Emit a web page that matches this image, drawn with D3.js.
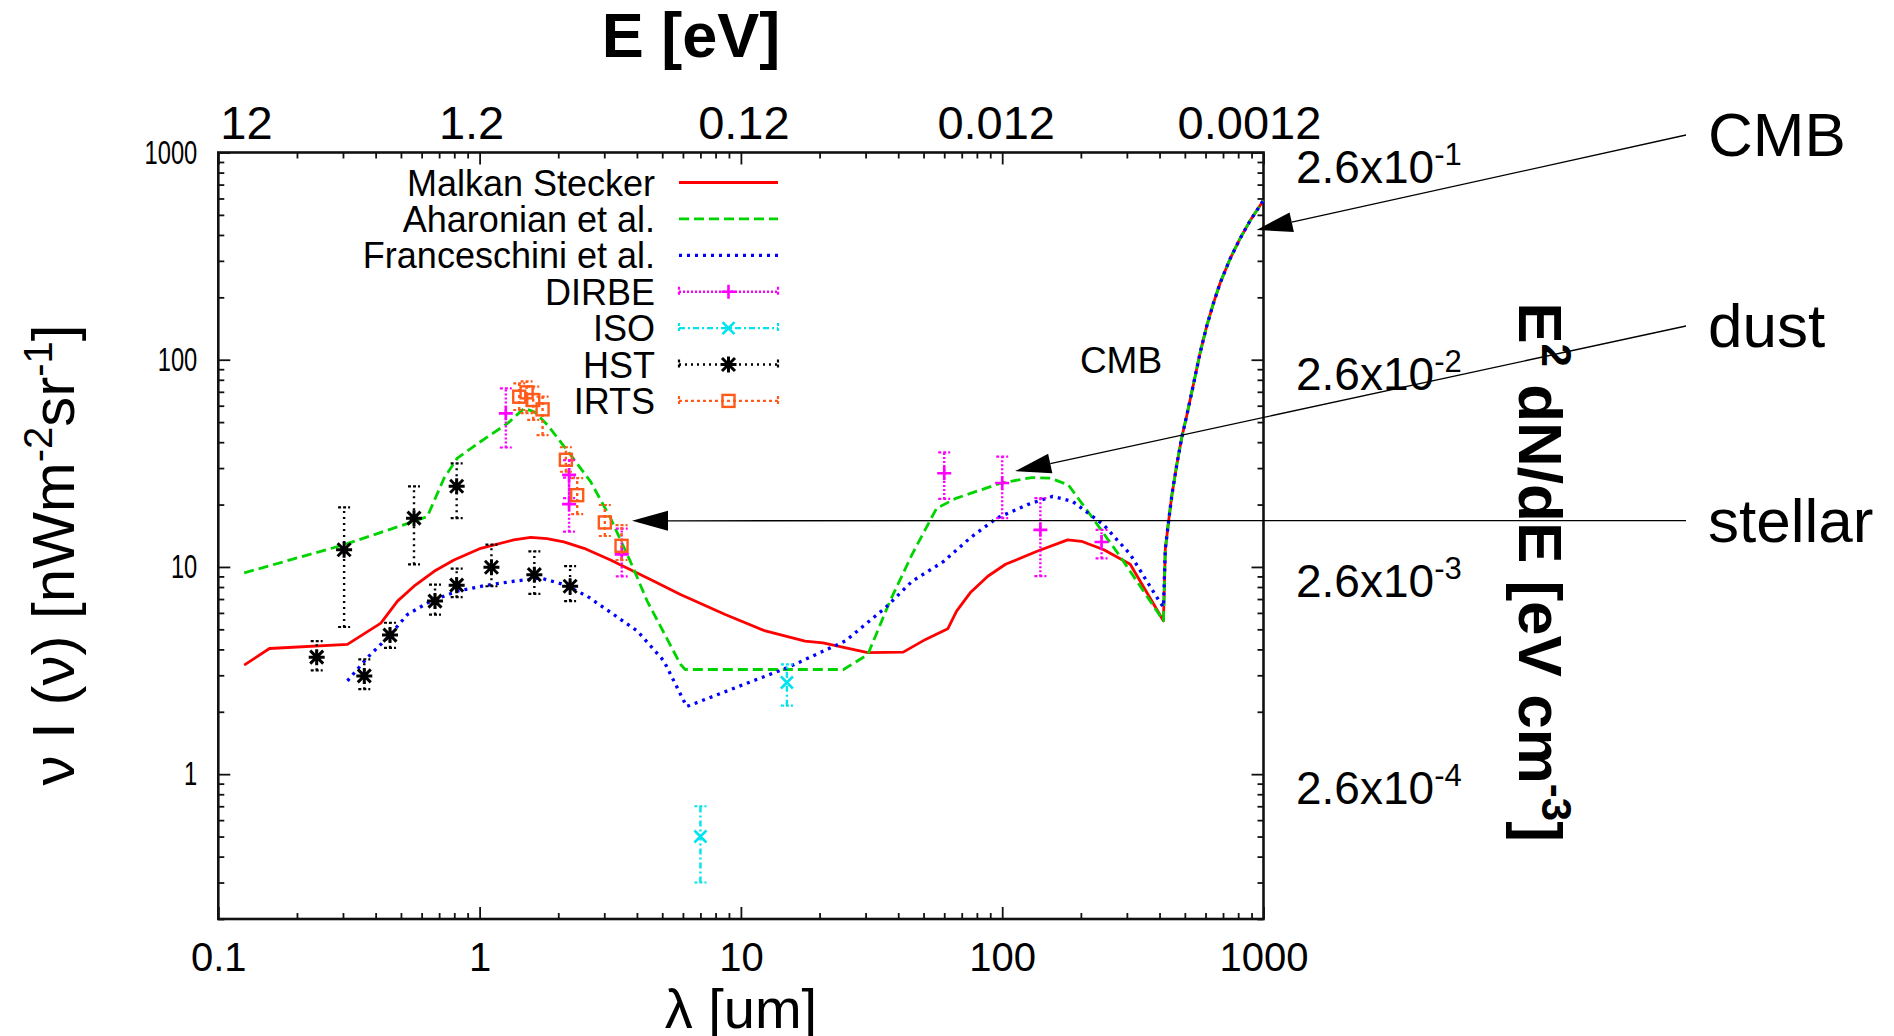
<!DOCTYPE html>
<html><head><meta charset="utf-8">
<script src="https://cdn.jsdelivr.net/npm/d3@7"></script>
<style>
body{margin:0;background:#fff}
svg{display:block}
text{font-family:"Liberation Sans",Arial,Helvetica,sans-serif;fill:#000}
</style>
</head><body>
<svg id="c" width="1894" height="1036"></svg>
<script>
// ---------------- DATA ----------------
const xTicks = [0.1, 1, 10, 100, 1000];
const xTickLabels = ["0.1", "1", "10", "100", "1000"];
const yTicks = [1, 10, 100, 1000];
const yTickLabels = ["1", "10", "100", "1000"];
const topTickLabels = ["12", "1.2", "0.12", "0.012", "0.0012"];
const rightTickValues = [1000, 100, 10, 1];
const rightTickMantissa = "2.6x10";
const rightTickExps = ["-1", "-2", "-3", "-4"];

const seriesNames = ["Malkan Stecker", "Aharonian et al.", "Franceschini et al.", "DIRBE", "ISO", "HST", "IRTS"];

// common CMB part [lambda um, nuI(nu)]
const cmb = [[421,12.2],[433,16.5],[446,22.2],[466,31.3],[487,42.3],[509,54.1],[540,76.5],[572,108],[607,146],[643,187],[682,234],[745,307],[813,384],[889,469],[998,586]];

const malkan = [[0.1256,3.36],[0.157,4.04],[0.312,4.23],[0.419,5.36],[0.485,6.84],[0.561,8.07],[0.67,9.53],[0.798,10.8],[1.01,12.3],[1.35,13.5],[1.57,13.9],[1.81,13.7],[2.10,13.2],[2.51,12.3],[3.17,10.8],[3.78,9.7],[4.65,8.53],[5.87,7.36],[8.71,5.89],[12.4,4.91],[17.6,4.39],[20.6,4.3],[30.6,3.86],[41.8,3.88],[50.9,4.47],[61.9,5.03],[66.9,6.12],[75.4,7.5],[88.1,9.02],[103,10.3],[136,11.9],[178,13.5],[201,13.3],[245,12.1],[309,10.3],[414,5.5]];

const aharonian = [[0.1256,9.36],[0.303,12.8],[0.561,16.6],[0.631,17.5],[0.731,26.8],[0.822,33.5],[1.01,40.3],[1.28,49.3],[1.48,58.2],[1.62,56.1],[1.82,48.4],[2.23,34.7],[2.66,25.8],[3.17,17.2],[3.78,10.6],[4.38,6.84],[5.87,3.39],[6.12,3.2],[24.7,3.2],[30.6,3.78],[37.2,6.84],[45.2,11.5],[56.1,19.2],[66.9,21.5],[99.1,25.4],[130,27.0],[153,26.8],[179,24.9],[217,17.9],[286,11],[414,5.5]];

const franceschini = [[0.312,2.82],[0.372,3.65],[0.444,4.55],[0.529,5.89],[0.65,6.84],[0.822,7.64],[1.07,8.17],[1.35,8.53],[1.71,8.85],[2.10,8.22],[2.58,7.23],[3.26,5.89],[4.01,4.91],[5.07,3.52],[6.2,2.12],[15.1,3.27],[25.1,4.39],[35.7,6.35],[45.2,8.53],[59.5,10.6],[75.4,13.8],[95.3,17.2],[125,20],[156,21.9],[186,20.7],[244,16.0],[309,11.5],[399,6.84],[414,6.4]];

// [lambda, value, low, high]
const dirbe = [[1.26,55.1,37.7,72.7],[2.2,27.8,21.5,32.8],[2.2,20.1,14.8,27],[3.5,11.5,9.0,15.3],[60,28.3,21.3,35.7],[100,25.4,17.2,34.1],[140,15.1,9.02,21.5],[240,13.2,11.0,15.1]];
const iso = [[7.0,0.5,0.3,0.7],[15.0,2.77,2.14,3.39]];
const hst = [[0.238,3.67,3.17,4.39],[0.303,12.1,5.13,19.4],[0.362,2.98,2.57,3.58],[0.454,4.69,4.07,5.38],[0.561,17.2,10.3,24.5],[0.675,6.84,5.89,8.22],[0.817,24.5,17.2,31.6],[0.817,8.17,7.15,9.82],[1.11,9.97,8.07,12.8],[1.62,9.18,7.41,11.9],[2.22,8.07,6.84,10.1]];
const irts = [[1.418,66.3,57.2,76.9],[1.513,69.6,55.3,78.6],[1.604,63.9,51.3,74.1],[1.742,57.6,43.3,66.3],[2.139,32.9,28.8,37.8],[2.363,22.2,18.0,26.8],[3.015,16.4,14.1,19.9],[3.493,12.65,10.8,15.9]];

// annotations: label, arrow tip in data coords
const annotations = [
  {text:"CMB", tip:[941,423]},
  {text:"dust", tip:[112,29]},
  {text:"stellar", tip:[3.83,16.7]}
];

// ---------------- CHART ----------------
const svg = d3.select("#c");
const x = d3.scaleLog().domain([0.1, 1000]).range([218.3, 1263.5]);
const y = d3.scaleLog().domain([0.2, 1000]).range([919, 152.5]);

const xMinor = [];
[0.1, 1, 10, 100].forEach(d => { for (let k = 2; k <= 9; k++) xMinor.push(k * d); });
const yMinor = [];
[0.1, 1, 10, 100].forEach(d => { for (let k = 2; k <= 9; k++) { const v = k * d; if (v >= 0.2) yMinor.push(v); } });

function styleAxis(g) {
  g.select(".domain").remove();
  g.selectAll(".tick line").attr("stroke", "#111").attr("stroke-width", 1.8);
}
const X0 = x(0.1), X1 = x(1000), Y0 = y(0.2), Y1 = y(1000);

// bottom
svg.append("g").attr("transform", `translate(0,${Y0})`)
  .call(d3.axisBottom(x).tickValues(xTicks).tickSize(-12).tickPadding(24).tickFormat((d, i) => xTickLabels[i]))
  .call(styleAxis).call(g => g.selectAll("text").attr("font-size", 40).style("font-family", "Liberation Sans, Arial, sans-serif"));
svg.append("g").attr("transform", `translate(0,${Y0})`)
  .call(d3.axisBottom(x).tickValues(xMinor).tickSize(-6).tickFormat(""))
  .call(styleAxis);
// top
svg.append("g").attr("transform", `translate(0,${Y1})`)
  .call(d3.axisTop(x).tickValues(xTicks).tickSize(-12).tickFormat(""))
  .call(styleAxis);
svg.append("g").attr("transform", `translate(0,${Y1})`)
  .call(d3.axisTop(x).tickValues(xMinor).tickSize(-6).tickFormat(""))
  .call(styleAxis);
// left
svg.append("g").attr("transform", `translate(${X0},0)`)
  .call(d3.axisLeft(y).tickValues(yTicks).tickSize(-12).tickPadding(21).tickFormat((d, i) => yTickLabels[i]))
  .call(styleAxis).call(g => g.selectAll("text").attr("font-size", 33)
    .attr("textLength", (d, i) => yTickLabels[i].length * 13.2).attr("lengthAdjust", "spacingAndGlyphs")
    .style("font-family", "Liberation Sans, Arial, sans-serif"));
svg.append("g").attr("transform", `translate(${X0},0)`)
  .call(d3.axisLeft(y).tickValues(yMinor).tickSize(-6).tickFormat(""))
  .call(styleAxis);
// right
svg.append("g").attr("transform", `translate(${X1},0)`)
  .call(d3.axisRight(y).tickValues(yTicks).tickSize(-12).tickFormat(""))
  .call(styleAxis);
svg.append("g").attr("transform", `translate(${X1},0)`)
  .call(d3.axisRight(y).tickValues(yMinor).tickSize(-6).tickFormat(""))
  .call(styleAxis);

// frame
svg.append("rect").attr("x", X0).attr("y", Y1).attr("width", X1 - X0).attr("height", Y0 - Y1)
  .attr("fill", "none").attr("stroke", "#111").attr("stroke-width", 2.6);

// top labels (E in eV)
const topShift = [2, -8, 3, -6, -14];
svg.append("g").selectAll("text").data(xTicks).join("text")
  .attr("x", (d, i) => x(d) + topShift[i])
  .attr("y", 139).attr("text-anchor", (d, i) => i === 0 ? "start" : "middle")
  .attr("font-size", 47).text((d, i) => topTickLabels[i]);

// right labels
const rl = svg.append("g").selectAll("text").data(rightTickValues).join("text")
  .attr("x", 1296).attr("y", d => y(d) + 30).attr("font-size", 46);
rl.append("tspan").text(rightTickMantissa);
rl.append("tspan").attr("dy", -18).attr("font-size", 31).text((d, i) => rightTickExps[i]);

// titles
svg.append("text").attr("x", 691).attr("y", 57).attr("text-anchor", "middle")
  .attr("font-size", 63).attr("font-weight", "bold").text("E [eV]");
svg.append("text").attr("x", x(10)).attr("y", 1028).attr("text-anchor", "middle")
  .attr("font-size", 56).text("λ [um]");

const lt = svg.append("text").attr("transform", "translate(74,555) rotate(-90)")
  .attr("text-anchor", "middle").attr("font-size", 60);
lt.append("tspan").text("ν I (ν) [nWm");
lt.append("tspan").attr("dy", -22).attr("font-size", 40).text("-2");
lt.append("tspan").attr("dy", 22).text("sr");
lt.append("tspan").attr("dy", -22).attr("font-size", 40).text("-1");
lt.append("tspan").attr("dy", 22).text("]");

const rt = svg.append("text").attr("transform", "translate(1519,572) rotate(90)")
  .attr("text-anchor", "middle").attr("font-size", 62).attr("font-weight", "bold");
rt.append("tspan").text("E");
rt.append("tspan").attr("dy", -23).attr("font-size", 42).text("2");
rt.append("tspan").attr("dy", 23).text(" dN/dE [eV cm");
rt.append("tspan").attr("dy", -23).attr("font-size", 42).text("-3");
rt.append("tspan").attr("dy", 23).text("]");

// CMB label in plot
svg.append("text").attr("x", 1121).attr("y", 373).attr("text-anchor", "middle").attr("font-size", 37).text("CMB");

// curves
const line = d3.line().x(d => x(d[0])).y(d => y(d[1]));
const curves = [
  {data: malkan.concat(cmb), color: "#ff0000", dash: null, w: 2.8},
  {data: aharonian.concat(cmb), color: "#00d400", dash: "10,5", w: 2.8},
  {data: franceschini.concat(cmb), color: "#0000ff", dash: "3,5", w: 3.3}
];
curves.forEach(c => {
  svg.append("path").attr("d", line(c.data)).attr("fill", "none")
    .attr("stroke", c.color).attr("stroke-width", c.w)
    .attr("stroke-dasharray", c.dash).attr("stroke-linejoin", "round");
});

// markers
function drawMarker(g, type, cx, cy, color) {
  if (type === "plus") {
    g.append("path").attr("d", `M${cx-7},${cy}H${cx+7}M${cx},${cy-7}V${cy+7}`).attr("stroke", color).attr("stroke-width", 2.6).attr("fill", "none");
  } else if (type === "cross") {
    g.append("path").attr("d", `M${cx-6},${cy-6}L${cx+6},${cy+6}M${cx-6},${cy+6}L${cx+6},${cy-6}`).attr("stroke", color).attr("stroke-width", 2.6).attr("fill", "none");
  } else if (type === "star") {
    g.append("path").attr("d", `M${cx-8},${cy}H${cx+8}M${cx},${cy-8}V${cy+8}M${cx-6.5},${cy-6.5}L${cx+6.5},${cy+6.5}M${cx-6.5},${cy+6.5}L${cx+6.5},${cy-6.5}`).attr("stroke", color).attr("stroke-width", 3).attr("fill", "none");
  } else if (type === "square") {
    g.append("rect").attr("x", cx-6).attr("y", cy-6).attr("width", 12).attr("height", 12).attr("stroke", color).attr("stroke-width", 2.4).attr("fill", "none");
  }
}
const pointSets = [
  {data: dirbe, color: "#ff00ff", dash: "2,2", marker: "plus"},
  {data: iso, color: "#00e4ee", dash: "6,3,2,3", marker: "cross"},
  {data: hst, color: "#000000", dash: "2,4", marker: "star"},
  {data: irts, color: "#ff5a1a", dash: "3,3", marker: "square"}
];
pointSets.forEach(s => {
  const g = svg.append("g");
  s.data.forEach(d => {
    const cx = x(d[0]), lo = y(d[2]), hi = y(d[3]);
    g.append("line").attr("x1", cx).attr("x2", cx).attr("y1", lo).attr("y2", hi)
      .attr("stroke", s.color).attr("stroke-width", 2.4).attr("stroke-dasharray", s.dash);
    [lo, hi].forEach(yy => g.append("line").attr("x1", cx-6).attr("x2", cx+6).attr("y1", yy).attr("y2", yy)
      .attr("stroke", s.color).attr("stroke-width", 2.2).attr("stroke-dasharray", "3,2"));
    drawMarker(g, s.marker, cx, y(d[1]), s.color);
  });
});

// legend
const legX1 = 679, legX2 = 778, legTextX = 655, legY0 = 182.5, legDY = 36.4;
const legStyles = curves.map(c => ({type: "line", color: c.color, dash: c.dash, w: c.w}))
  .concat(pointSets.map(s => ({type: "pts", color: s.color, dash: s.dash, marker: s.marker})));
seriesNames.forEach((name, i) => {
  const yy = legY0 + i * legDY;
  svg.append("text").attr("x", legTextX).attr("y", yy + 13).attr("text-anchor", "end").attr("font-size", 36).text(name);
  const st = legStyles[i];
  const g = svg.append("g");
  g.append("line").attr("x1", legX1).attr("x2", legX2).attr("y1", yy).attr("y2", yy)
    .attr("stroke", st.color).attr("stroke-width", st.type === "line" ? st.w : 2.4).attr("stroke-dasharray", st.dash);
  if (st.type === "pts") {
    [legX1, legX2].forEach(xx => g.append("line").attr("x1", xx).attr("x2", xx).attr("y1", yy-5).attr("y2", yy+5)
      .attr("stroke", st.color).attr("stroke-width", 2.2).attr("stroke-dasharray", "3,2"));
    drawMarker(g, st.marker, (legX1 + legX2) / 2, yy, st.color);
  }
});

// annotations with arrows
const annX = 1686, annTextX = 1708;
const annY = [135, 326, 520.6];
annotations.forEach((a, i) => {
  const tx = x(a.tip[0]), ty = y(a.tip[1]);
  const sx = annX, sy = annY[i];
  const ang = Math.atan2(sy - ty, sx - tx);
  const L = 36, hw = 10;
  const bx = tx + L * Math.cos(ang), by = ty + L * Math.sin(ang);
  svg.append("line").attr("x1", sx).attr("y1", sy).attr("x2", bx).attr("y2", by).attr("stroke", "#000").attr("stroke-width", 1.3);
  const px = -Math.sin(ang) * hw, py = Math.cos(ang) * hw;
  svg.append("path").attr("d", `M${tx},${ty}L${bx+px},${by+py}L${bx-px},${by-py}Z`).attr("fill", "#000");
  svg.append("text").attr("x", annTextX).attr("y", sy + 21).attr("font-size", 62).text(a.text);
});
</script>
</body></html>
